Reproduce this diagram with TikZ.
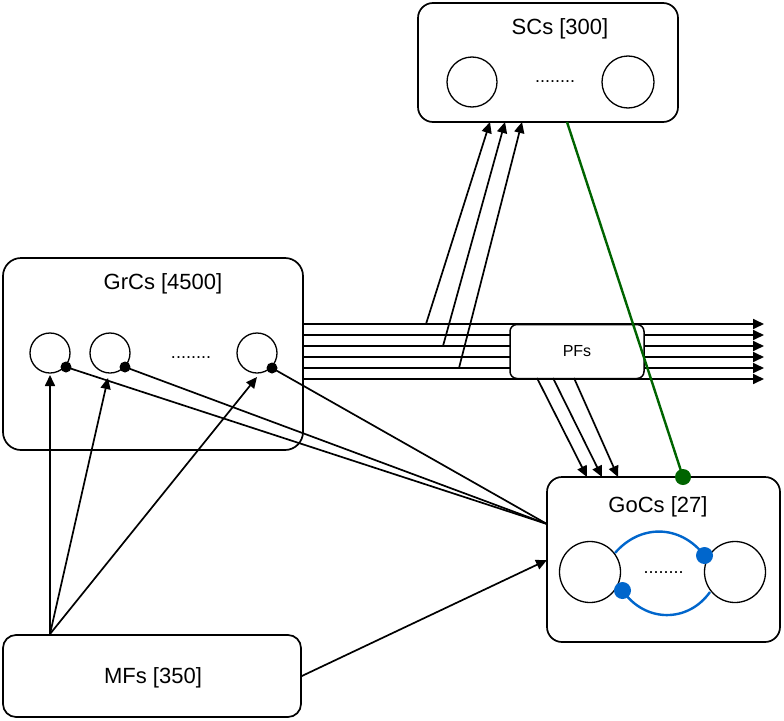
\documentclass[tikz,border=0pt]{standalone}
\usepackage{fontspec}
\setmainfont{Liberation Sans}
\usetikzlibrary{arrows.meta}
\definecolor{dgreen}{RGB}{0,100,0}
\definecolor{gblue}{RGB}{0,102,204}
\begin{document}
\begin{tikzpicture}[x=1pt,y=-1pt,
  box/.style={draw,line width=1.7pt,rounded corners=15pt,inner sep=0pt,fill=white},
  cell/.style={draw,circle,line width=1.3pt,inner sep=0pt},
  title/.style={font=\fontsize{22}{26}\selectfont,inner sep=0pt},
  dotsl/.style={font=\fontsize{18}{20}\selectfont,inner sep=0pt},
  con/.style={line width=1.7pt},
  arr/.style={con,-{Triangle[length=11pt,width=10pt]}},
  bdot/.style={circle,fill=black,inner sep=0pt,minimum size=11pt},
  bldot/.style={circle,fill=gblue,inner sep=0pt,minimum size=17pt},
  gdot/.style={circle,fill=dgreen,inner sep=0pt,minimum size=16pt},
]
\useasboundingbox (0,0) rectangle (784,720);

% boxes
\node[box,minimum width=260pt,minimum height=119pt] (sc) at (548,62.5) {};
\node[box,rounded corners=18pt,minimum width=300pt,minimum height=192pt] (grc) at (153,354) {};
\node[box,minimum width=233pt,minimum height=165pt] (goc) at (663.5,559.5) {};
\node[box,rounded corners=13pt,minimum width=298pt,minimum height=82pt] (mf) at (152,676) {};

% titles
\node[title] (sct) at (560,29) {SCs [300]};
\node[title] (grct) at (163,284) {GrCs [4500]};
\node[title] (goct) at (658,507) {GoCs [27]};
\node[title] (mft) at (153,678) {MFs [350]};

% cells
\node[cell,minimum size=50pt] (s1) at (472,82) {};
\node[cell,minimum size=52pt] (s2) at (628,82) {};
\node[dotsl] (sdots) at (555,82) {........};
\node[cell,minimum size=40pt] (g1) at (50,353) {};
\node[cell,minimum size=40pt] (g2) at (110,353) {};
\node[cell,minimum size=40pt] (g3) at (257,353) {};
\node[dotsl] (gdots) at (191,358) {........};
\node[cell,minimum size=61pt] (c1) at (590,572) {};
\node[cell,minimum size=61pt] (c2) at (735,572) {};
\node[dotsl] (cdots) at (663.5,573) {........};

% parallel fibres
\foreach \i/\y in {1/324,2/335,3/346,4/357,5/368,6/379}{
  \coordinate (h\i) at (303,\y);
  \coordinate (e\i) at (764,\y);
  \draw[arr] (h\i) -- (e\i);
}
\node[box,line width=1.5pt,rounded corners=7pt,minimum width=134pt,minimum height=54pt,font=\fontsize{16}{18}\selectfont] (pf) at (577,351.5) {PFs};

% PF -> SC
\coordinate (a1) at (426,324); \coordinate (b1) at (490,122);
\coordinate (a2) at (443,346); \coordinate (b2) at (505,122);
\coordinate (a3) at (459,368); \coordinate (b3) at (522,122);
\draw[arr] (a1) -- (b1);
\draw[arr] (a2) -- (b2);
\draw[arr] (a3) -- (b3);

% PF -> GoC
\coordinate (p1) at (537,378); \coordinate (q1) at (587,477);
\coordinate (p2) at (553,378); \coordinate (q2) at (602,477);
\coordinate (p3) at (574,378); \coordinate (q3) at (618,477);
\draw[arr] (p1) -- (q1);
\draw[arr] (p2) -- (q2);
\draw[arr] (p3) -- (q3);

% MF -> GrC
\coordinate (mo) at (50,634);
\coordinate (t1) at (50,375);
\coordinate (t2) at (108,378);
\coordinate (t3) at (257,377);
\draw[arr] (mo) -- (t1);
\draw[arr] (mo) -- (t2);
\draw[arr] (mo) -- (t3);

% MF -> GoC
\coordinate (gm) at (547,560);
\draw[arr] (mf.east) -- (gm);

% GoC -> GrC (inhibitory)
\coordinate (gi) at (547,524);
\node[bdot] (d1) at (66,367) {};
\node[bdot] (d2) at (125,367) {};
\node[bdot] (d3) at (272,368) {};
\draw[con] (gi) -- (d1.center);
\draw[con] (gi) -- (d2.center);
\draw[con] (gi) -- (d3.center);

% SC -> GoC (green)
\coordinate (sg) at (567,122);
\node[gdot] (gd) at (683,477) {};
\draw[dgreen,line width=2.4pt] (sg) -- (gd.center);

% GoC <-> GoC (blue)
\node[bldot] (bd1) at (704.5,555.5) {};
\node[bldot] (bd2) at (622.5,590.5) {};
\coordinate (u1) at (615,553);
\coordinate (u2) at (710,592);
\draw[gblue,line width=2.4pt] (u1) .. controls (640,524) and (680,524) .. (bd1.center);
\draw[gblue,line width=2.4pt] (bd2.center) .. controls (645,623) and (688,623) .. (u2);
\end{tikzpicture}
\end{document}
